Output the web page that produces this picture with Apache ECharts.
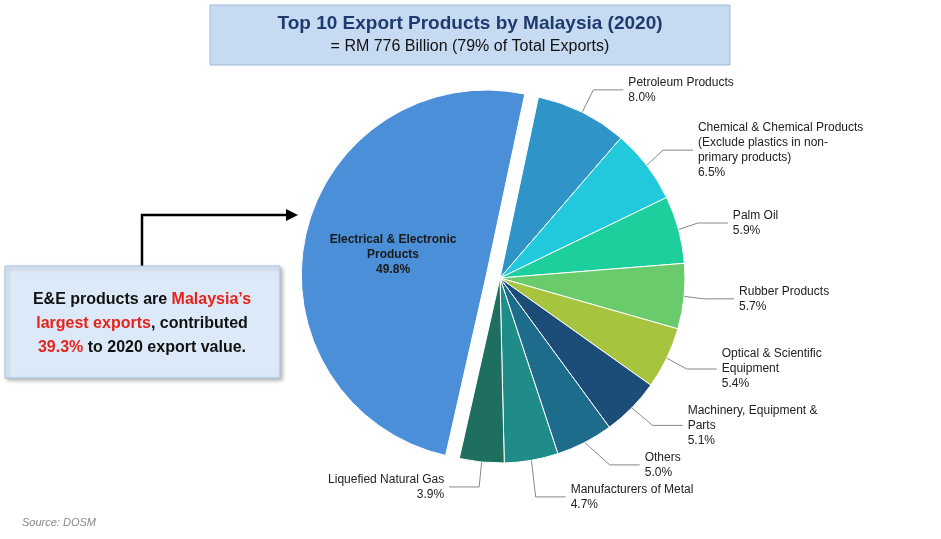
<!DOCTYPE html>
<html>
<head>
<meta charset="UTF-8">
<script src="https://cdn.jsdelivr.net/npm/echarts@6/dist/echarts.min.js"></script>
<style>html,body{margin:0;background:#fff}#c{width:941px;height:539px}</style>
</head>
<body>
<div id="c"></div>
<script>
// slices in clockwise order, starting just right of 12 o'clock
const names = ['Petroleum Products', 'Chemical & Chemical Products\n(Exclude plastics in non-\nprimary products)', 'Palm Oil', 'Rubber Products',
  'Optical & Scientific\nEquipment', 'Machinery, Equipment &\nParts', 'Others', 'Manufacturers of Metal', 'Liquefied Natural Gas',
  'Electrical & Electronic\nProducts'];
const shares = [8.0, 6.5, 5.9, 5.7, 5.4, 5.1, 5.0, 4.7, 3.9, 49.8];
const colors = ['#2f95c8', '#22c9dc', '#1ccf9c', '#6acb6c', '#a6c43e', '#1c4d78', '#1d6c8c', '#1f8c8a', '#1e6f60', '#4a8fd8'];

const chart = echarts.init(document.getElementById('c'));
const font = '"Liberation Sans", Arial, sans-serif';

chart.setOption({
  animation: false,
  series: [{
    type: 'pie',
    center: [500, 278],
    radius: [0, 185],
    startAngle: 78,
    data: names.map((n, i) => ({
      name: n, value: shares[i],
      itemStyle: { color: colors[i] },
      selected: i === 9,
      label: i === 9 ? { position: 'inside', fontWeight: 'bold', color: '#1a1a1a', fontSize: 12, offset: [-40, -40] } : {}
    })),
    selectedMode: 'single',
    selectedOffset: 14,
    itemStyle: { borderColor: '#fff', borderWidth: 1 },
    label: {
      fontFamily: font, fontSize: 12, color: '#222', lineHeight: 15, textAlign: 'center',
      formatter: p => p.name + '\n' + p.value.toFixed(1) + '%'
    },
    labelLine: { length: 25, length2: 30, lineStyle: { color: '#888' } }
  }],
  graphic: [
    { type: 'rect', shape: { x: 210, y: 5, width: 520, height: 60 }, style: { fill: '#c6daf2', stroke: '#9db8dc', lineWidth: 1 } },
    { type: 'text', x: 470, y: 14, style: { text: 'Top 10 Export Products by Malaysia (2020)', font: 'bold 19px ' + font, fill: '#1f3b6e', textAlign: 'center' } },
    { type: 'text', x: 470, y: 39, style: { text: '= RM 776 Billion (79% of Total Exports)', font: '16px ' + font, fill: '#111', textAlign: 'center' } },
    { type: 'polyline', shape: { points: [[142, 268], [142, 215], [288, 215]] }, style: { stroke: '#000', lineWidth: 2.5, fill: null } },
    { type: 'polygon', shape: { points: [[298, 215], [286, 209], [286, 221]] }, style: { fill: '#000' } },
    { type: 'rect', shape: { x: 5, y: 266, width: 275, height: 112 }, style: { fill: '#dce9f8', stroke: '#a9c3e6', lineWidth: 1, shadowBlur: 4, shadowColor: 'rgba(0,0,0,0.3)', shadowOffsetX: 2, shadowOffsetY: 2 } },
    { type: 'text', x: 142, y: 288, style: {
      text: '{b|E&E products are }{r|Malaysia\u2019s}\n{r|largest exports}{b|, contributed}\n{r|39.3%}{b| to 2020 export value.}',
      textAlign: 'center', font: 'bold 16px ' + font,
      rich: { b: { font: 'bold 16px ' + font, fill: '#111', lineHeight: 24 }, r: { font: 'bold 16px ' + font, fill: '#e8221a', lineHeight: 24 } }
    } },
    { type: 'text', x: 22, y: 517, style: { text: 'Source: DOSM', font: 'italic 11px ' + font, fill: '#888' } }
  ]
});
</script>
</body>
</html>
